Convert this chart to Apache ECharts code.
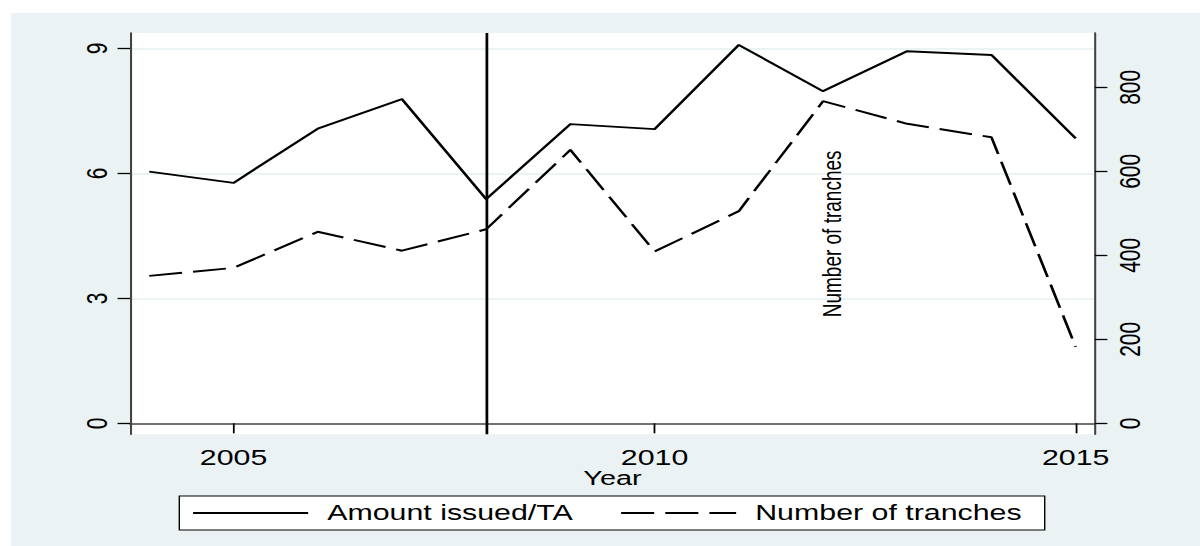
<!DOCTYPE html>
<html>
<head>
<meta charset="utf-8">
<script src="https://cdn.jsdelivr.net/npm/echarts@6/dist/echarts.min.js"></script>
<style>
html,body{margin:0;padding:0;background:#fff;width:1200px;height:546px;overflow:hidden;}
#bg{position:absolute;left:11px;top:13px;width:1189px;height:533px;background:#eaf2f3;}
#chart{position:absolute;left:0;top:0;width:870px;height:546px;transform:scaleX(1.37931);transform-origin:0 0;}
</style>
</head>
<body>
<div id="bg"></div>
<div id="chart"></div>
<script>
// ---- data ----
const years = [2004, 2005, 2006, 2007, 2008, 2009, 2010, 2011, 2012, 2013, 2014, 2015];
const amountIssuedTA = [6.04, 5.77, 7.07, 7.78, 5.38, 7.18, 7.06, 9.08, 7.97, 8.93, 8.84, 6.84];
const numberOfTranches = [351, 370, 456, 411, 462, 651, 409, 505, 767, 713, 681, 182];
const xTickLabels = [2005, 2010, 2015];
const leftTickLabels = [0, 3, 6, 9];
const rightTickLabels = [0, 200, 400, 600, 800];
const gridTickValues = [3, 6, 9];
const crisisYear = 2008;
const annotationText = 'Number of tranches';
const annotationYear = 2012.11;
const annotationValue = 451;
const seriesNames = ['Amount issued/TA', 'Number of tranches'];

const FONT = '"Liberation Sans", Arial, Helvetica, sans-serif';

const chart = echarts.init(document.getElementById('chart'), null, {renderer: 'svg'});

const leftMin = -0.264, leftMax = 9.367;
const rightMin = -26.2, rightMax = 929.3;

chart.setOption({
  animation: false,
  backgroundColor: 'transparent',
  textStyle: {fontFamily: FONT},
  grid: {
    left: 94.25, top: 33, width: 699.6, height: 401.3,
    show: true, backgroundColor: '#ffffff', borderWidth: 0,
    containLabel: false, outerBoundsMode: 'none'
  },
  legend: {
    left: 130, top: 496, orient: 'horizontal',
    itemWidth: 83.4, itemHeight: 14, itemGap: 34,
    padding: [6, 16.7, 6, 9],
    backgroundColor: '#ffffff', borderColor: '#000000', borderWidth: 1, borderRadius: 0,
    selectedMode: false,
    itemStyle: {opacity: 0, color: 'transparent', borderWidth: 0},
    textStyle: {fontSize: 22, color: '#000', fontFamily: FONT, lineHeight: 22, padding: [0, 0, 0, 8.8]},
    data: seriesNames
  },
  xAxis: {
    type: 'value', min: 2003.771, max: 2015.229,
    name: 'Year', nameLocation: 'middle', nameGap: 33, nameMoveOverlap: false,
    nameTextStyle: {fontSize: 21, color: '#000', fontFamily: FONT, verticalAlign: 'top'},
    axisLine: {show: true, lineStyle: {color: '#444', width: 1.5}},
    axisTick: {show: true, length: 10, customValues: xTickLabels, lineStyle: {color: '#000', width: 1.3}},
    axisLabel: {customValues: xTickLabels, fontSize: 22, color: '#000', margin: 12, fontFamily: FONT,
      formatter: v => String(v)},
    splitLine: {show: false}
  },
  yAxis: [
    {
      type: 'value', position: 'left', min: leftMin, max: leftMax,
      axisLine: {show: true, lineStyle: {color: '#444', width: 1.5}},
      axisTick: {show: true, length: 9, customValues: leftTickLabels, lineStyle: {color: '#000', width: 1.3}},
      axisLabel: {customValues: leftTickLabels, rotate: 90, fontSize: 21, color: '#000', margin: 14, fontFamily: FONT,
        formatter: v => String(v)},
      splitLine: {show: false}
    },
    {
      type: 'value', position: 'right', min: rightMin, max: rightMax,
      axisLine: {show: true, lineStyle: {color: '#444', width: 1.5}},
      axisTick: {show: true, length: 9, customValues: rightTickLabels, lineStyle: {color: '#000', width: 1.3}},
      axisLabel: {customValues: rightTickLabels, rotate: 90, fontSize: 21, color: '#000', margin: 15, fontFamily: FONT,
        formatter: v => String(v)},
      splitLine: {show: false}
    },
    {
      type: 'value', position: 'left', min: leftMin, max: leftMax, show: true,
      axisLine: {show: false},
      axisTick: {show: false, customValues: gridTickValues},
      axisLabel: {show: false, customValues: gridTickValues},
      splitLine: {show: true, lineStyle: {color: '#e6eff1', width: 1.5}}
    }
  ],
  series: [
    {
      name: seriesNames[0], type: 'line', yAxisIndex: 0,
      data: years.map((y, i) => [y, amountIssuedTA[i]]),
      symbol: 'none', showSymbol: false,
      lineStyle: {color: '#000', width: 2},
      itemStyle: {color: '#000'},
      z: 3,
      markLine: {
        silent: true, symbol: 'none', animation: false,
        label: {show: false},
        lineStyle: {color: '#000', width: 2, type: 'solid'},
        data: [{xAxis: crisisYear}]
      }
    },
    {
      name: seriesNames[1], type: 'line', yAxisIndex: 1,
      data: years.map((y, i) => [y, numberOfTranches[i]]),
      symbol: 'none', showSymbol: false,
      lineStyle: {color: '#000', width: 2, type: [24, 8]},
      itemStyle: {color: '#000'},
      z: 3,
      markPoint: {
        silent: true, animation: false,
        data: [{
          coord: [annotationYear, annotationValue],
          symbol: 'circle', symbolSize: 0,
          itemStyle: {color: 'transparent'},
          label: {show: true, position: 'inside', rotate: 90, formatter: annotationText,
            fontSize: 19, color: '#000', fontFamily: FONT}
        }]
      }
    }
  ]
});
</script>
</body>
</html>
